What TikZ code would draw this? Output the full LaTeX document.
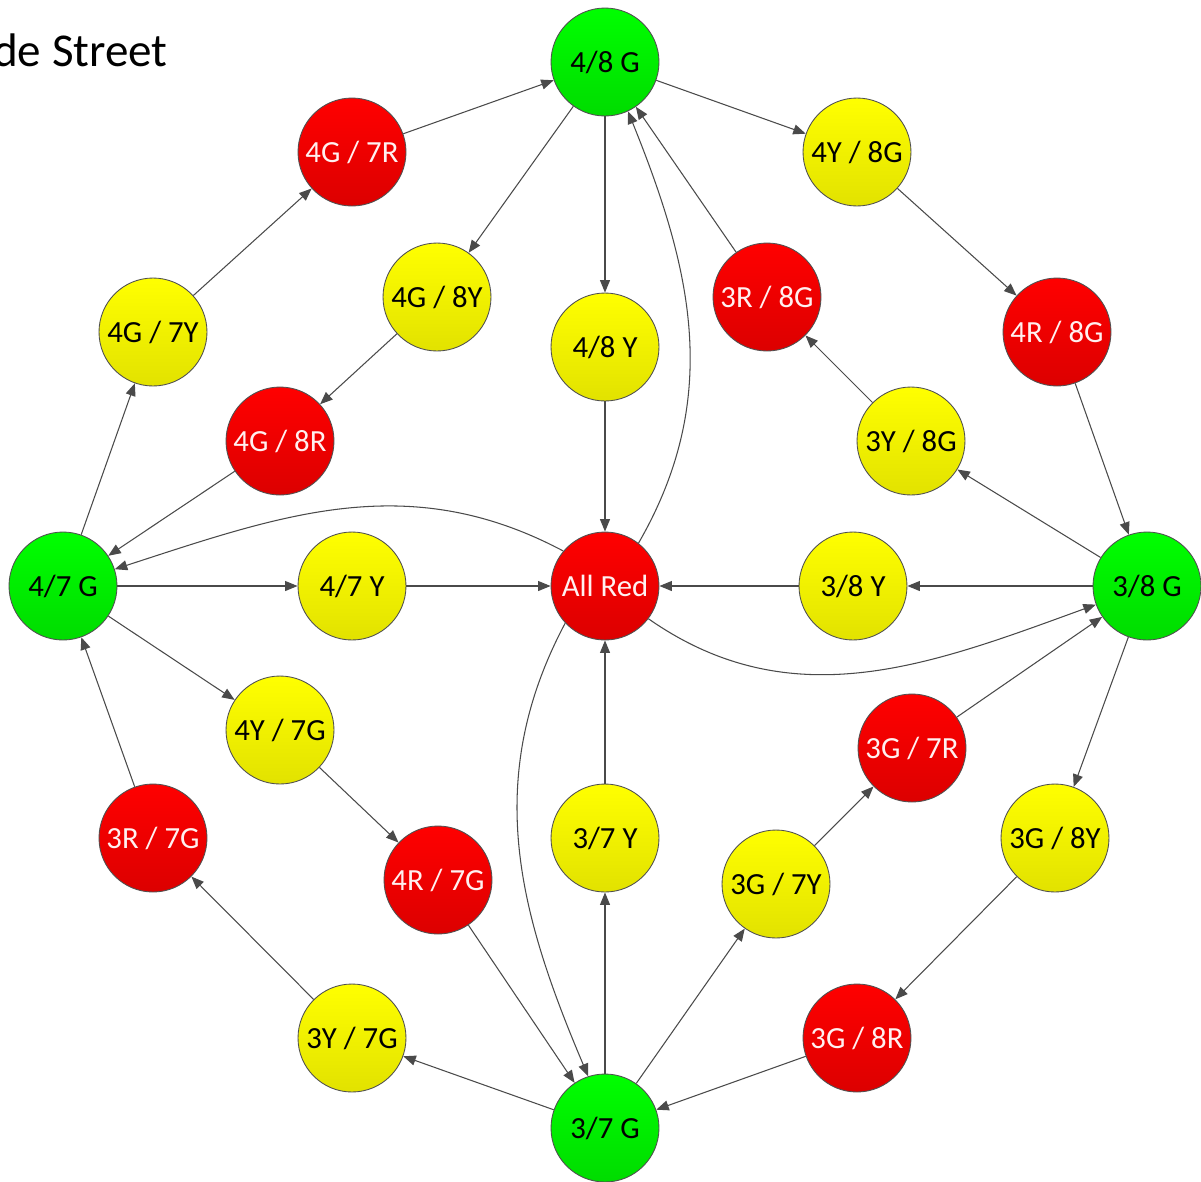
\documentclass[tikz,border=0pt]{standalone}
\usepackage{fontspec}
\setmainfont{Carlito}
\usetikzlibrary{arrows.meta}
\definecolor{redtop}{HTML}{FF0000}
\definecolor{redbot}{HTML}{DC0000}
\definecolor{grntop}{HTML}{00FF00}
\definecolor{grnbot}{HTML}{00DC00}
\definecolor{ylwtop}{HTML}{FFFF00}
\definecolor{ylwbot}{HTML}{E2E200}
\definecolor{edge}{HTML}{4A4A4A}
\definecolor{rim}{HTML}{505050}
\definecolor{redtxt}{HTML}{FFF0F0}

\begin{document}
\begin{tikzpicture}[x=0.02cm, y=-0.02cm,
    light/.style={circle, draw=rim, line width=0.5pt, minimum size=2.16cm, inner sep=0pt,
        font=\fontsize{17.5}{20}\selectfont},
    grn/.style={light, top color=grntop, bottom color=grnbot},
    ylw/.style={light, top color=ylwtop, bottom color=ylwbot},
    rd/.style={light, top color=redtop, bottom color=redbot, text=redtxt},
    link/.style={draw=edge, line width=0.6pt, -{Triangle[length=2.5mm, width=2mm]}}]

    \useasboundingbox (0,0) rectangle (1201,1181);

    \node[anchor=base east, inner sep=0pt, font=\fontsize{26.8}{30}\selectfont] (title) at (168,66) {de Street};

    \node[grn] (g48) at (605,62) {4/8 G};
    \node[rd] (r4g7r) at (352,152) {4G / 7R};
    \node[ylw] (y4y8g) at (857,152) {4Y / 8G};
    \node[ylw] (y4g7y) at (153,332) {4G / 7Y};
    \node[ylw] (y4g8y) at (437,297) {4G / 8Y};
    \node[ylw] (y48) at (605,347) {4/8 Y};
    \node[rd] (r3r8g) at (767,297) {3R / 8G};
    \node[rd] (r4r8g) at (1057,332) {4R / 8G};
    \node[rd] (r4g8r) at (280,441) {4G / 8R};
    \node[ylw] (y3y8g) at (911,441) {3Y / 8G};

    \node[grn] (g47) at (63,586) {4/7 G};
    \node[ylw] (y47) at (352,586) {4/7 Y};
    \node[rd] (ar) at (605,586) {All Red};
    \node[ylw] (y38) at (853,586) {3/8 Y};
    \node[grn] (g38) at (1147,586) {3/8 G};

    \node[ylw] (y4y7g) at (280,730) {4Y / 7G};
    \node[rd] (r3g7r) at (912,748) {3G / 7R};
    \node[rd] (r3r7g) at (153,838) {3R / 7G};
    \node[ylw] (y37) at (605,838) {3/7 Y};
    \node[ylw] (y3g8y) at (1055,838) {3G / 8Y};
    \node[rd] (r4r7g) at (438,880) {4R / 7G};
    \node[ylw] (y3g7y) at (776,884) {3G / 7Y};
    \node[ylw] (y3y7g) at (352,1038) {3Y / 7G};
    \node[rd] (r3g8r) at (857,1038) {3G / 8R};
    \node[grn] (g37) at (605,1128) {3/7 G};

    \draw[link] (r4g7r) -- (g48);
    \draw[link] (g48) -- (y4y8g);
    \draw[link] (g48) -- (y4g8y);
    \draw[link] (g48) -- (y48);
    \draw[link] (r3r8g) -- (g48);
    \draw[link] (y4y8g) -- (r4r8g);
    \draw[link] (r4r8g) -- (g38);
    \draw[link] (y4g7y) -- (r4g7r);
    \draw[link] (y4g8y) -- (r4g8r);
    \draw[link] (y48) -- (ar);
    \draw[link] (y3y8g) -- (r3r8g);
    \draw[link] (g38) -- (y3y8g);
    \draw[link] (r4g8r) -- (g47);
    \draw[link] (g47) -- (y4g7y);
    \draw[link] (g47) -- (y47);
    \draw[link] (y47) -- (ar);
    \draw[link] (y38) -- (ar);
    \draw[link] (g38) -- (y38);
    \draw[link] (g47) -- (y4y7g);
    \draw[link] (r3r7g) -- (g47);
    \draw[link] (r3g7r) -- (g38);
    \draw[link] (g38) -- (y3g8y);
    \draw[link] (y4y7g) -- (r4r7g);
    \draw[link] (y37) -- (ar);
    \draw[link] (g37) -- (y37);
    \draw[link] (y3g7y) -- (r3g7r);
    \draw[link] (y3g8y) -- (r3g8r);
    \draw[link] (r4r7g) -- (g37);
    \draw[link] (g37) -- (y3g7y);
    \draw[link] (g37) -- (y3y7g);
    \draw[link] (y3y7g) -- (r3r7g);
    \draw[link] (r3g8r) -- (g37);

    \draw[link] (ar.140) to[out=152, in=18] (g47.18);
    \draw[link] (ar.52) to[out=60, in=-68] (g48.-65);
    \draw[link] (ar.-37) to[out=-35, in=200] (g38.200);
    \draw[link] (ar.223) to[out=-118, in=113] (g37.108);
\end{tikzpicture}
\end{document}
